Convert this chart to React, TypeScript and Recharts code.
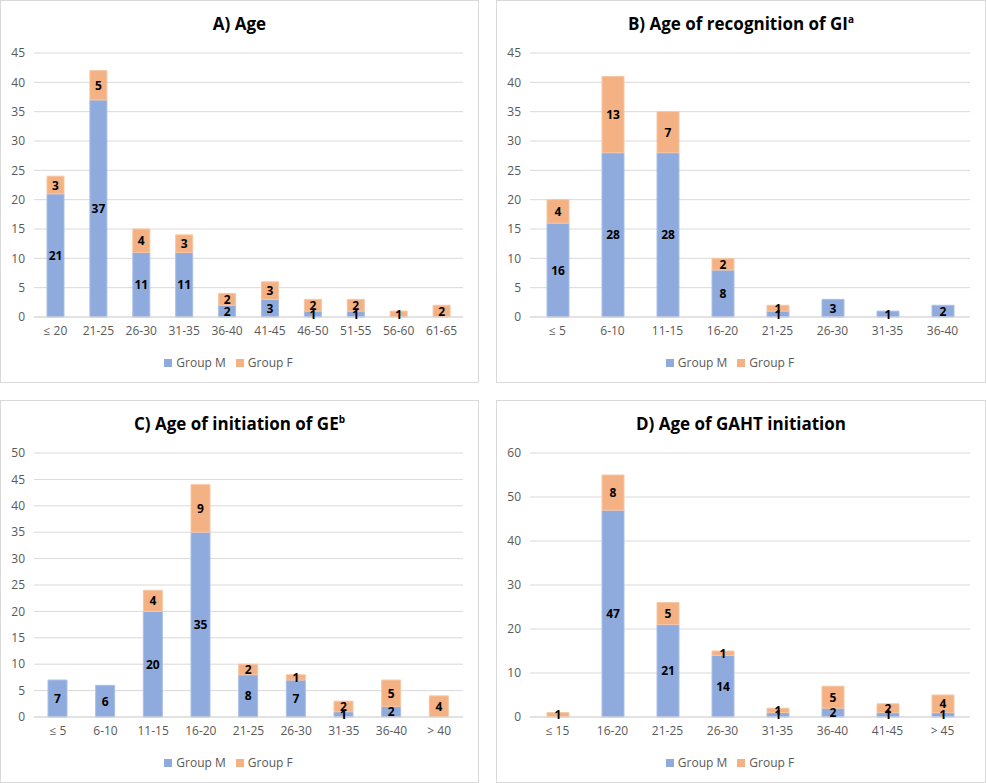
import { Bar, BarChart, CartesianGrid, LabelList, Legend, XAxis, YAxis } from 'recharts'

const ageCats = ['≤ 20', '21-25', '26-30', '31-35', '36-40', '41-45', '46-50', '51-55', '56-60', '61-65']
const ageM = [21, 37, 11, 11, 2, 3, 1, 1, 0, 0]
const ageF = [3, 5, 4, 3, 2, 3, 2, 2, 1, 2]

const giCats = ['≤ 5', '6-10', '11-15', '16-20', '21-25', '26-30', '31-35', '36-40']
const giM = [16, 28, 28, 8, 1, 3, 1, 2]
const giF = [4, 13, 7, 2, 1, 0, 0, 0]

const geCats = ['≤ 5', '6-10', '11-15', '16-20', '21-25', '26-30', '31-35', '36-40', '> 40']
const geM = [7, 6, 20, 35, 8, 7, 1, 2, 0]
const geF = [0, 0, 4, 9, 2, 1, 2, 5, 4]

const gahtCats = ['≤ 15', '16-20', '21-25', '26-30', '31-35', '36-40', '41-45', '> 45']
const gahtM = [0, 47, 21, 14, 1, 2, 1, 1]
const gahtF = [1, 8, 5, 1, 1, 5, 2, 4]

const ticks45 = [0, 5, 10, 15, 20, 25, 30, 35, 40, 45]
const ticks50 = [0, 5, 10, 15, 20, 25, 30, 35, 40, 45, 50]
const ticks60 = [0, 10, 20, 30, 40, 50, 60]

const FONT = '"Open Sans", "Liberation Sans", sans-serif'
const BLUE = '#8FAADC'
const ORANGE = '#F4B183'

function build(cats: string[], m: number[], f: number[]) {
  return cats.map((c, i) => ({ cat: c, m: m[i], f: f[i] }))
}

function SegLabel(props: any) {
  const { x, y, width, height, value } = props
  if (!value) return null
  return (
    <text
      x={x + width / 2}
      y={y + height / 2}
      textAnchor='middle'
      dominantBaseline='central'
      fontFamily={FONT}
      fontSize={12}
      fontWeight={700}
      fill='#000'
    >
      {value}
    </text>
  )
}

type PanelProps = {
  left: number
  top: number
  width: number
  title: React.ReactNode
  data: { cat: string; m: number; f: number }[]
  max: number
  ticks: number[]
  barSize: number
}

function Panel({ left, top, width, title, data, max, ticks, barSize }: PanelProps) {
  const height = 383
  return (
    <div
      style={{
        position: 'absolute',
        left,
        top,
        width,
        height,
        boxSizing: 'border-box',
        border: '1px solid #D9D9D9',
        background: '#fff',
      }}
    >
      <div
        style={{
          position: 'absolute',
          top: 11,
          left: 0,
          width: '100%',
          textAlign: 'center',
          fontFamily: FONT,
          fontWeight: 700,
          fontSize: 17,
          color: '#000',
        }}
      >
        {title}
      </div>
      <div style={{ position: 'absolute', left: -1, top: -1 }}>
        <BarChart
          width={width}
          height={height}
          data={data}
          margin={{ top: 53, right: 16, left: 4, bottom: 10 }}
        >
          <CartesianGrid vertical={false} stroke='#D9D9D9' />
          <XAxis
            dataKey='cat'
            axisLine={{ stroke: '#D9D9D9' }}
            tickLine={false}
            tickMargin={3}
            height={36}
            interval={0}
            tick={{ fill: '#595959', fontSize: 12, fontFamily: FONT }}
          />
          <YAxis
            domain={[0, max]}
            ticks={ticks}
            width={30}
            axisLine={false}
            tickLine={false}
            tickMargin={3}
            tick={{ fill: '#595959', fontSize: 12, fontFamily: FONT }}
          />
          <Legend
            verticalAlign='bottom'
            height={20}
            iconType='square'
            iconSize={8}
            itemSorter={(item: any) => (item.dataKey === 'm' ? 0 : 1)}
            formatter={(v) => (
              <span style={{ color: '#595959', fontSize: 12, fontFamily: FONT }}>{v}</span>
            )}
          />
          <Bar dataKey='m' name='Group M' stackId='a' fill={BLUE} stroke='#A9BFE6' strokeWidth={1} barSize={barSize} isAnimationActive={false}>
            <LabelList dataKey='m' content={SegLabel} />
          </Bar>
          <Bar dataKey='f' name='Group F' stackId='a' fill={ORANGE} stroke='#F7C6A3' strokeWidth={1} barSize={barSize} isAnimationActive={false}>
            <LabelList dataKey='f' content={SegLabel} />
          </Bar>
        </BarChart>
      </div>
    </div>
  )
}

export default function App() {
  return (
    <div style={{ position: 'absolute', left: 0, top: 0, width: 986, height: 783, background: '#fff' }}>
      <Panel left={0} top={0} width={479} title='A) Age' data={build(ageCats, ageM, ageF)} max={45} ticks={ticks45} barSize={17} />
      <Panel
        left={496}
        top={0}
        width={490}
        title={<>B) Age of recognition of GI<sup style={{ fontSize: 10 }}>a</sup></>}
        data={build(giCats, giM, giF)}
        max={45}
        ticks={ticks45}
        barSize={22}
      />
      <Panel
        left={0}
        top={400}
        width={479}
        title={<>C) Age of initiation of GE<sup style={{ fontSize: 10 }}>b</sup></>}
        data={build(geCats, geM, geF)}
        max={50}
        ticks={ticks50}
        barSize={19}
      />
      <Panel left={496} top={400} width={490} title='D) Age of GAHT initiation' data={build(gahtCats, gahtM, gahtF)} max={60} ticks={ticks60} barSize={22} />
    </div>
  )
}
